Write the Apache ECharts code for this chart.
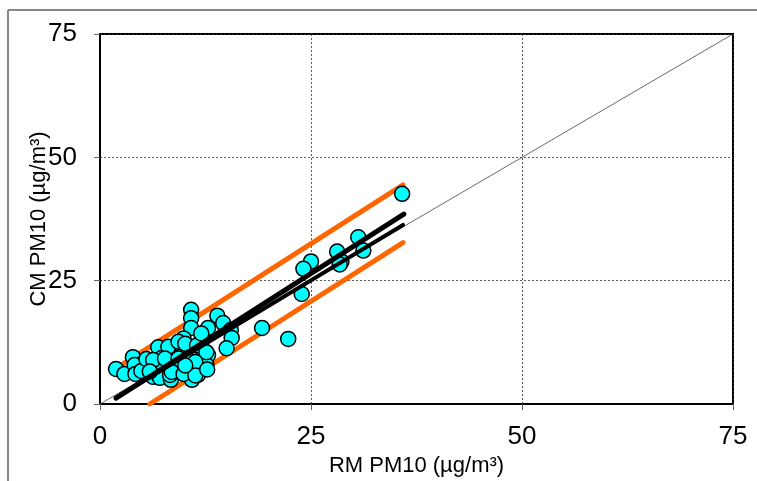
<!DOCTYPE html>
<html>
<head>
<meta charset="utf-8">
<script src="https://cdn.jsdelivr.net/npm/echarts@6/dist/echarts.min.js"></script>
<style>
html,body{margin:0;padding:0;background:#fff;}
#chart{width:757px;height:481px;}
</style>
</head>
<body>
<div id="chart"></div>
<script>
// Reference method (RM) PM10 values, x axis
const rmValues = [
  1.9, 2.9, 3.9, 5.1, 4.1, 4.2, 4.9, 5.5, 6.0, 6.9, 7.3, 7.2, 6.3, 7.9, 8.5, 8.3, 7.1, 8.4,
  10.8, 10.8, 10.8, 13.9, 14.6, 12.8, 15.5, 15.6, 15.0, 12.8, 9.9, 9.4, 11.3, 12.2, 10.1, 11.4,
  12.6, 11.6, 10.1, 9.1, 10.9, 8.3, 8.7, 8.9,
  30.6, 31.2, 28.1, 28.6, 28.4, 25.0, 24.1, 23.9, 19.2, 22.3,
  8.1, 9.3, 10.1, 11.5, 12.6, 6.3, 7.7, 9.3, 11.3, 5.9, 8.5, 9.9, 11.3, 10.1, 12.0, 12.7, 35.8
];
// Candidate method (CM) PM10 values, y axis
const cmValues = [
  7.1, 6.1, 9.5, 8.3, 7.9, 6.1, 6.7, 9.1, 6.4, 11.5, 9.3, 8.1, 5.5, 5.9, 10.6, 8.3, 5.3, 4.9,
  19.1, 17.4, 15.4, 17.9, 16.4, 15.4, 15.0, 13.4, 11.3, 9.9, 13.3, 11.4, 11.0, 11.0, 10.3, 8.3,
  7.9, 5.9, 6.1, 7.6, 4.9, 5.9, 11.0, 9.3,
  33.8, 31.1, 30.9, 28.9, 28.3, 28.9, 27.4, 22.3, 15.4, 13.2,
  11.6, 12.6, 12.2, 11.9, 10.5, 8.9, 9.2, 9.2, 8.5, 6.6, 6.5, 6.1, 5.8, 7.8, 14.3, 7.0, 42.6
];
// Tick labels
const tickValues = [0, 25, 50, 75];
// Lines (endpoints)
const identityX = [0, 75];
const identityY = [0, 75];
const fitX = [1.9, 36.0];
const fitY = [1.2, 38.5];
const fit2X = [2.4, 35.9];
const fit2Y = [1.8, 36.3];
const upperBandX = [2.5, 35.9];
const upperBandY = [7.9, 44.4];
const lowerBandX = [5.9, 35.9];
const lowerBandY = [0.0, 32.7];

const pts = rmValues.map((x, i) => [x, cmValues[i]]);
const seg = (xs, ys) => xs.map((x, i) => [x, ys[i]]);

const chart = echarts.init(document.getElementById('chart'), null, {renderer: 'canvas'});
const font = 'Arial, "Liberation Sans", sans-serif';
const axisCommon = {
  type: 'value', min: 0, max: 75, interval: 25,
  axisLine: {show: true, onZero: false, lineStyle: {color: '#000', width: 2}},
  axisTick: {show: true, inside: false, length: 6, lineStyle: {color: '#666', width: 1}},
  splitLine: {show: true, lineStyle: {color: '#333', width: 0.8, type: [2, 2]}},
  nameLocation: 'middle',
  nameMoveOverlap: false,
  nameTextStyle: {fontFamily: font, fontSize: 22, color: '#000'}
};
chart.setOption({
  animation: false,
  backgroundColor: '#fff',
  grid: {left: 100, right: 24, top: 34, bottom: 77, show: true, borderColor: '#000', borderWidth: 2,
    containLabel: false, outerBoundsMode: 'none'},
  xAxis: Object.assign({}, axisCommon, {
    name: 'RM PM10 (µg/m³)', nameGap: 51,
    axisLabel: {fontFamily: font, fontSize: 26, color: '#000', margin: 20,
      formatter: v => tickValues.includes(v) ? String(v) : ''}
  }),
  yAxis: Object.assign({}, axisCommon, {
    name: 'CM PM10 (µg/m³)', nameGap: 50,
    axisLabel: {fontFamily: font, fontSize: 26, color: '#000', margin: 23,
      formatter: v => tickValues.includes(v) ? String(v) : ''}
  }),
  graphic: [
    {type: 'line', shape: {x1: 8, y1: 10, x2: 757, y2: 10}, style: {stroke: '#888', lineWidth: 2}, z: 100},
    {type: 'line', shape: {x1: 8, y1: 10, x2: 8, y2: 481}, style: {stroke: '#888', lineWidth: 2}, z: 100}
  ],
  series: [
    {type: 'line', data: seg(identityX, identityY), showSymbol: false, silent: true,
      lineStyle: {color: '#444', width: 0.8}, z: 1},
    {type: 'line', data: seg(upperBandX, upperBandY), showSymbol: false, silent: true,
      lineStyle: {color: '#FF6600', width: 5, cap: 'round'}, z: 2},
    {type: 'line', data: seg(lowerBandX, lowerBandY), showSymbol: false, silent: true,
      lineStyle: {color: '#FF6600', width: 5, cap: 'round'}, z: 2},
    {type: 'scatter', data: pts, symbol: 'circle', symbolSize: 15,
      itemStyle: {color: '#00FFFF', borderColor: '#000', borderWidth: 1.5, opacity: 1}, z: 3},
    {type: 'line', data: seg(fitX, fitY), showSymbol: false, silent: true,
      lineStyle: {color: '#000', width: 5, cap: 'round'}, z: 4},
    {type: 'line', data: seg(fit2X, fit2Y), showSymbol: false, silent: true,
      lineStyle: {color: '#000', width: 4, cap: 'round'}, z: 4}
  ]
});
</script>
</body>
</html>
